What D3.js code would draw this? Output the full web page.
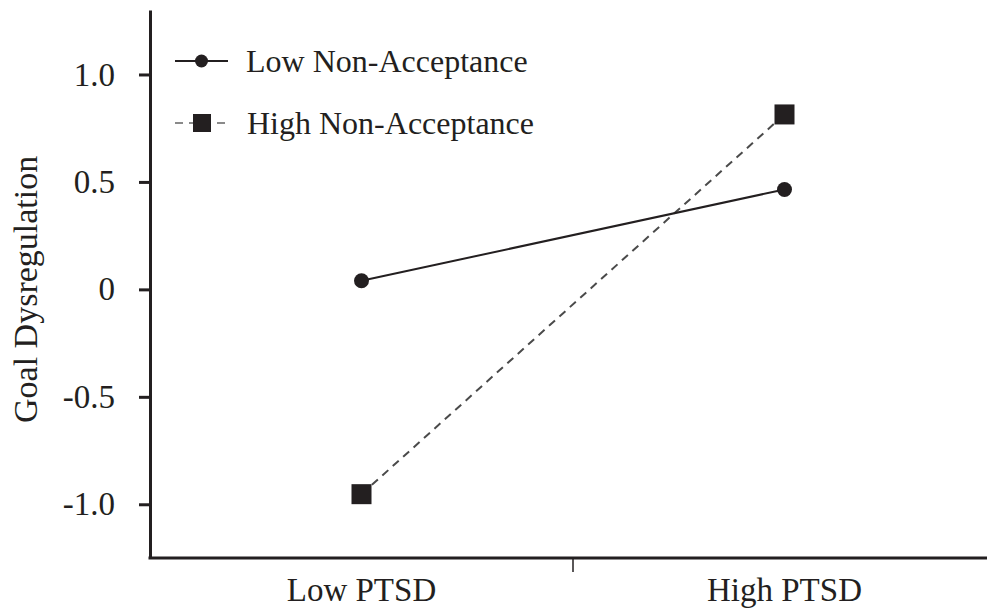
<!DOCTYPE html>
<html>
<head>
<meta charset="utf-8">
<script src="https://cdn.jsdelivr.net/npm/d3@7"></script>
<style>
    html, body { margin: 0; padding: 0; background: #fff; }
    svg text { font-family: "Liberation Serif", "Times New Roman", serif; fill: #231f20; }
</style>
</head>
<body>
<svg id="chart" width="987" height="611"></svg>
<script>
// Interaction plot: goal dysregulation by PTSD level and non-acceptance
const categories = ['Low PTSD', 'High PTSD'];
const seriesNames = ['Low Non-Acceptance', 'High Non-Acceptance'];
const lowNonAcceptance = [0.04, 0.465];
const highNonAcceptance = [-0.953, 0.814];
const yTickValues = [1.0, 0.5, 0, -0.5, -1.0];
const yTickLabels = ['1.0', '0.5', '0', '-0.5', '-1.0'];

const ink = '#231f20';
const svg = d3.select('#chart');

const x = d3.scaleBand()
    .domain(categories)
    .range([150, 996]);

const y = d3.scaleLinear()
    .domain([-1.25, 1.3])
    .range([558, 10]);

const cx = c => x(c) + x.bandwidth() / 2;

// Y axis
const yAxis = d3.axisLeft(y)
    .tickValues(yTickValues)
    .tickFormat((d, i) => yTickLabels[i])
    .tickSizeInner(11)
    .tickSizeOuter(0)
    .tickPadding(24);

const gy = svg.append('g')
    .attr('transform', 'translate(150,0)')
    .call(yAxis);
gy.select('.domain').attr('stroke', ink).attr('stroke-width', 3);
gy.selectAll('.tick line').attr('stroke', ink).attr('stroke-width', 3);
gy.selectAll('.tick text')
    .attr('font-size', 33)
    .attr('font-family', '"Liberation Serif", serif')
    .attr('fill', ink);

// X axis: baseline plus a single divider tick between the two groups
svg.append('line')
    .attr('x1', 148.5).attr('x2', 987)
    .attr('y1', 558).attr('y2', 558)
    .attr('stroke', ink).attr('stroke-width', 3);

svg.append('line')
    .attr('x1', x(categories[1])).attr('x2', x(categories[1]))
    .attr('y1', 558).attr('y2', 572)
    .attr('stroke', ink).attr('stroke-width', 1.5);

svg.selectAll('.x-label')
    .data(categories)
    .join('text')
    .attr('class', 'x-label')
    .attr('x', d => cx(d))
    .attr('y', 601)
    .attr('text-anchor', 'middle')
    .attr('font-size', 33)
    .text(d => d);

// Y axis title
svg.append('text')
    .attr('transform', `translate(37,${y(0)}) rotate(-90)`)
    .attr('text-anchor', 'middle')
    .attr('font-size', 34)
    .text('Goal Dysregulation');

// Lines
const line = d3.line()
    .x((d, i) => cx(categories[i]))
    .y(d => y(d));

svg.append('path')
    .datum(highNonAcceptance)
    .attr('fill', 'none')
    .attr('stroke', '#4a4a4a')
    .attr('stroke-width', 2)
    .attr('stroke-dasharray', '8,6')
    .attr('d', line);

svg.append('path')
    .datum(lowNonAcceptance)
    .attr('fill', 'none')
    .attr('stroke', ink)
    .attr('stroke-width', 2)
    .attr('d', line);

// Markers
svg.selectAll('.pt-low')
    .data(lowNonAcceptance)
    .join('circle')
    .attr('class', 'pt-low')
    .attr('cx', (d, i) => cx(categories[i]))
    .attr('cy', d => y(d))
    .attr('r', 7.5)
    .attr('fill', ink);

const sq = 20;
svg.selectAll('.pt-high')
    .data(highNonAcceptance)
    .join('rect')
    .attr('class', 'pt-high')
    .attr('x', (d, i) => cx(categories[i]) - sq / 2)
    .attr('y', d => y(d) - sq / 2)
    .attr('width', sq)
    .attr('height', sq)
    .attr('fill', ink);

// Legend
const legend = svg.append('g').attr('transform', 'translate(175,61)');

legend.append('line')
    .attr('x1', 0).attr('x2', 53).attr('y1', 0).attr('y2', 0)
    .attr('stroke', ink).attr('stroke-width', 2);
legend.append('circle')
    .attr('cx', 26.5).attr('cy', 0).attr('r', 6.5).attr('fill', ink);
legend.append('text')
    .attr('x', 71).attr('y', 11)
    .attr('font-size', 32)
    .text(seriesNames[0]);

legend.append('line')
    .attr('x1', 0).attr('x2', 53).attr('y1', 62).attr('y2', 62)
    .attr('stroke', '#8a8a8a').attr('stroke-width', 2)
    .attr('stroke-dasharray', '8,6');
legend.append('rect')
    .attr('x', 18).attr('y', 53).attr('width', 18).attr('height', 18)
    .attr('fill', ink);
legend.append('text')
    .attr('x', 72).attr('y', 73)
    .attr('font-size', 32)
    .text(seriesNames[1]);
</script>
</body>
</html>
